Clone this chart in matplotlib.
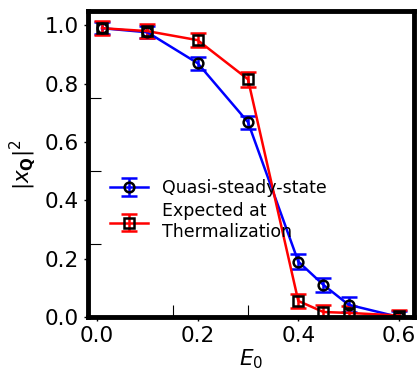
import matplotlib
matplotlib.use("Agg")
import matplotlib.pyplot as plt

E0 = [0.01, 0.1, 0.2, 0.3, 0.4, 0.45, 0.5, 0.6]
quasi = [0.99, 0.976, 0.87, 0.668, 0.19, 0.11, 0.042, 0.0]
quasi_err = [0.02, 0.02, 0.022, 0.022, 0.025, 0.025, 0.025, 0.02]
thermal = [0.99, 0.98, 0.949, 0.815, 0.055, 0.017, 0.014, 0.005]
thermal_err = [0.025, 0.025, 0.025, 0.025, 0.025, 0.025, 0.025, 0.02]

fig = plt.figure(figsize=(4.19, 3.71), dpi=100)
ax = fig.add_axes([0.21, 0.1456, 0.778, 0.824])

ax.errorbar(E0, quasi, yerr=quasi_err, color='b', ecolor='b', lw=1.8,
            marker='o', ms=7, mfc='none', mec='k', mew=1.8,
            elinewidth=1.8, capsize=6, capthick=1.8, label='Quasi-steady-state')
ax.errorbar(E0, thermal, yerr=thermal_err, color='r', ecolor='r', lw=1.8,
            marker='s', ms=7, mfc='none', mec='k', mew=1.8,
            elinewidth=1.8, capsize=6, capthick=1.8,
            label='Expected at\nThermalization')

ax.set_xlim(-0.018, 0.63)
ax.set_ylim(0, 1.048)
ax.set_xticks([0.0, 0.2, 0.4, 0.6])
ax.set_yticks([0.0, 0.2, 0.4, 0.6, 0.8, 1.0])
ax.set_xticks([0.15, 0.30], minor=True)
ax.set_yticks([0.25, 0.5, 0.75], minor=True)
ax.tick_params(which='major', direction='out', length=3, width=1, labelsize=15.5)
ax.tick_params(which='minor', direction='in', length=9, width=0.8)
for s in ax.spines.values():
    s.set_linewidth(3.5)

ax.set_xlabel(r'$E_0$', fontsize=15.5, labelpad=1)
ax.set_ylabel(r'$|x_{\mathbf{Q}}|^2$', fontsize=15.5, labelpad=5)

ax.legend(loc='center left', bbox_to_anchor=(0.067, 0.35), frameon=False,
          fontsize=12.5, handlelength=2.2, handletextpad=0.8, labelspacing=0.3,
          borderpad=0, borderaxespad=0)

fig.savefig('out.png', dpi=100)
